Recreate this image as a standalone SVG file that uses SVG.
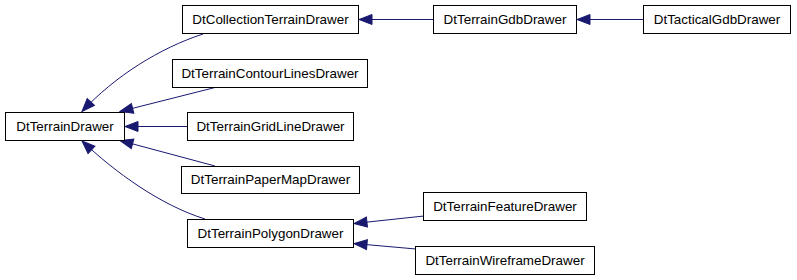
<svg xmlns="http://www.w3.org/2000/svg" width="797" height="280" viewBox="0 0 797 280">
<style>
.node rect{fill:#fff;stroke:#000;stroke-width:1}
.node text{font-family:"Liberation Sans",Arial,sans-serif;font-size:13.4px;fill:#000;text-anchor:middle}
.edge path{fill:none;stroke:#191970;stroke-width:1;marker-end:url(#ah)}
</style>
<defs>
<marker id="ah" markerUnits="userSpaceOnUse" markerWidth="16" markerHeight="12" refX="13" refY="5" orient="auto" overflow="visible">
<path d="M0,0 L13,5 L0,10 z" fill="#191970" stroke="#191970"/>
</marker>
</defs>
<g id="edges" class="edge">
<path d="M433,19.5 L359,19.5"/>
<path d="M643,19.5 L577,19.5"/>
<path d="M203,34 C160,48 115,76 82,111.5"/>
<path d="M215,87.5 L120,111.5"/>
<path d="M187,126.5 L125,126.5"/>
<path d="M215,166 L120,140.5"/>
<path d="M205,219 C160,205 115,172 82,141"/>
<path d="M424,216 L354,223.5"/>
<path d="M416,249 L354,243.5"/>
</g>
<g id="DtTerrainDrawer" class="node"><rect x="5.5" y="112.5" width="119" height="28"/><text x="65" y="130.5">DtTerrainDrawer</text></g>
<g id="DtCollectionTerrainDrawer" class="node"><rect x="182.5" y="5.5" width="176" height="28"/><text x="270.5" y="23.5">DtCollectionTerrainDrawer</text></g>
<g id="DtTerrainContourLinesDrawer" class="node"><rect x="172.5" y="59.5" width="195" height="28"/><text x="270" y="77.5">DtTerrainContourLinesDrawer</text></g>
<g id="DtTerrainGridLineDrawer" class="node"><rect x="187.5" y="112.5" width="166" height="28"/><text x="270.5" y="130.5">DtTerrainGridLineDrawer</text></g>
<g id="DtTerrainPaperMapDrawer" class="node"><rect x="181.5" y="166.5" width="178" height="27"/><text x="270.5" y="184">DtTerrainPaperMapDrawer</text></g>
<g id="DtTerrainPolygonDrawer" class="node"><rect x="187.5" y="219.5" width="166" height="28"/><text x="270.5" y="237.5">DtTerrainPolygonDrawer</text></g>
<g id="DtTerrainGdbDrawer" class="node"><rect x="433.5" y="5.5" width="143" height="28"/><text x="505" y="23.5">DtTerrainGdbDrawer</text></g>
<g id="DtTacticalGdbDrawer" class="node"><rect x="643.5" y="5.5" width="147" height="28"/><text x="717" y="23.5">DtTacticalGdbDrawer</text></g>
<g id="DtTerrainFeatureDrawer" class="node"><rect x="423.5" y="192.5" width="163" height="28"/><text x="505" y="210.5">DtTerrainFeatureDrawer</text></g>
<g id="DtTerrainWireframeDrawer" class="node"><rect x="415.5" y="246.5" width="179" height="28"/><text x="505" y="264.5">DtTerrainWireframeDrawer</text></g>
</svg>
